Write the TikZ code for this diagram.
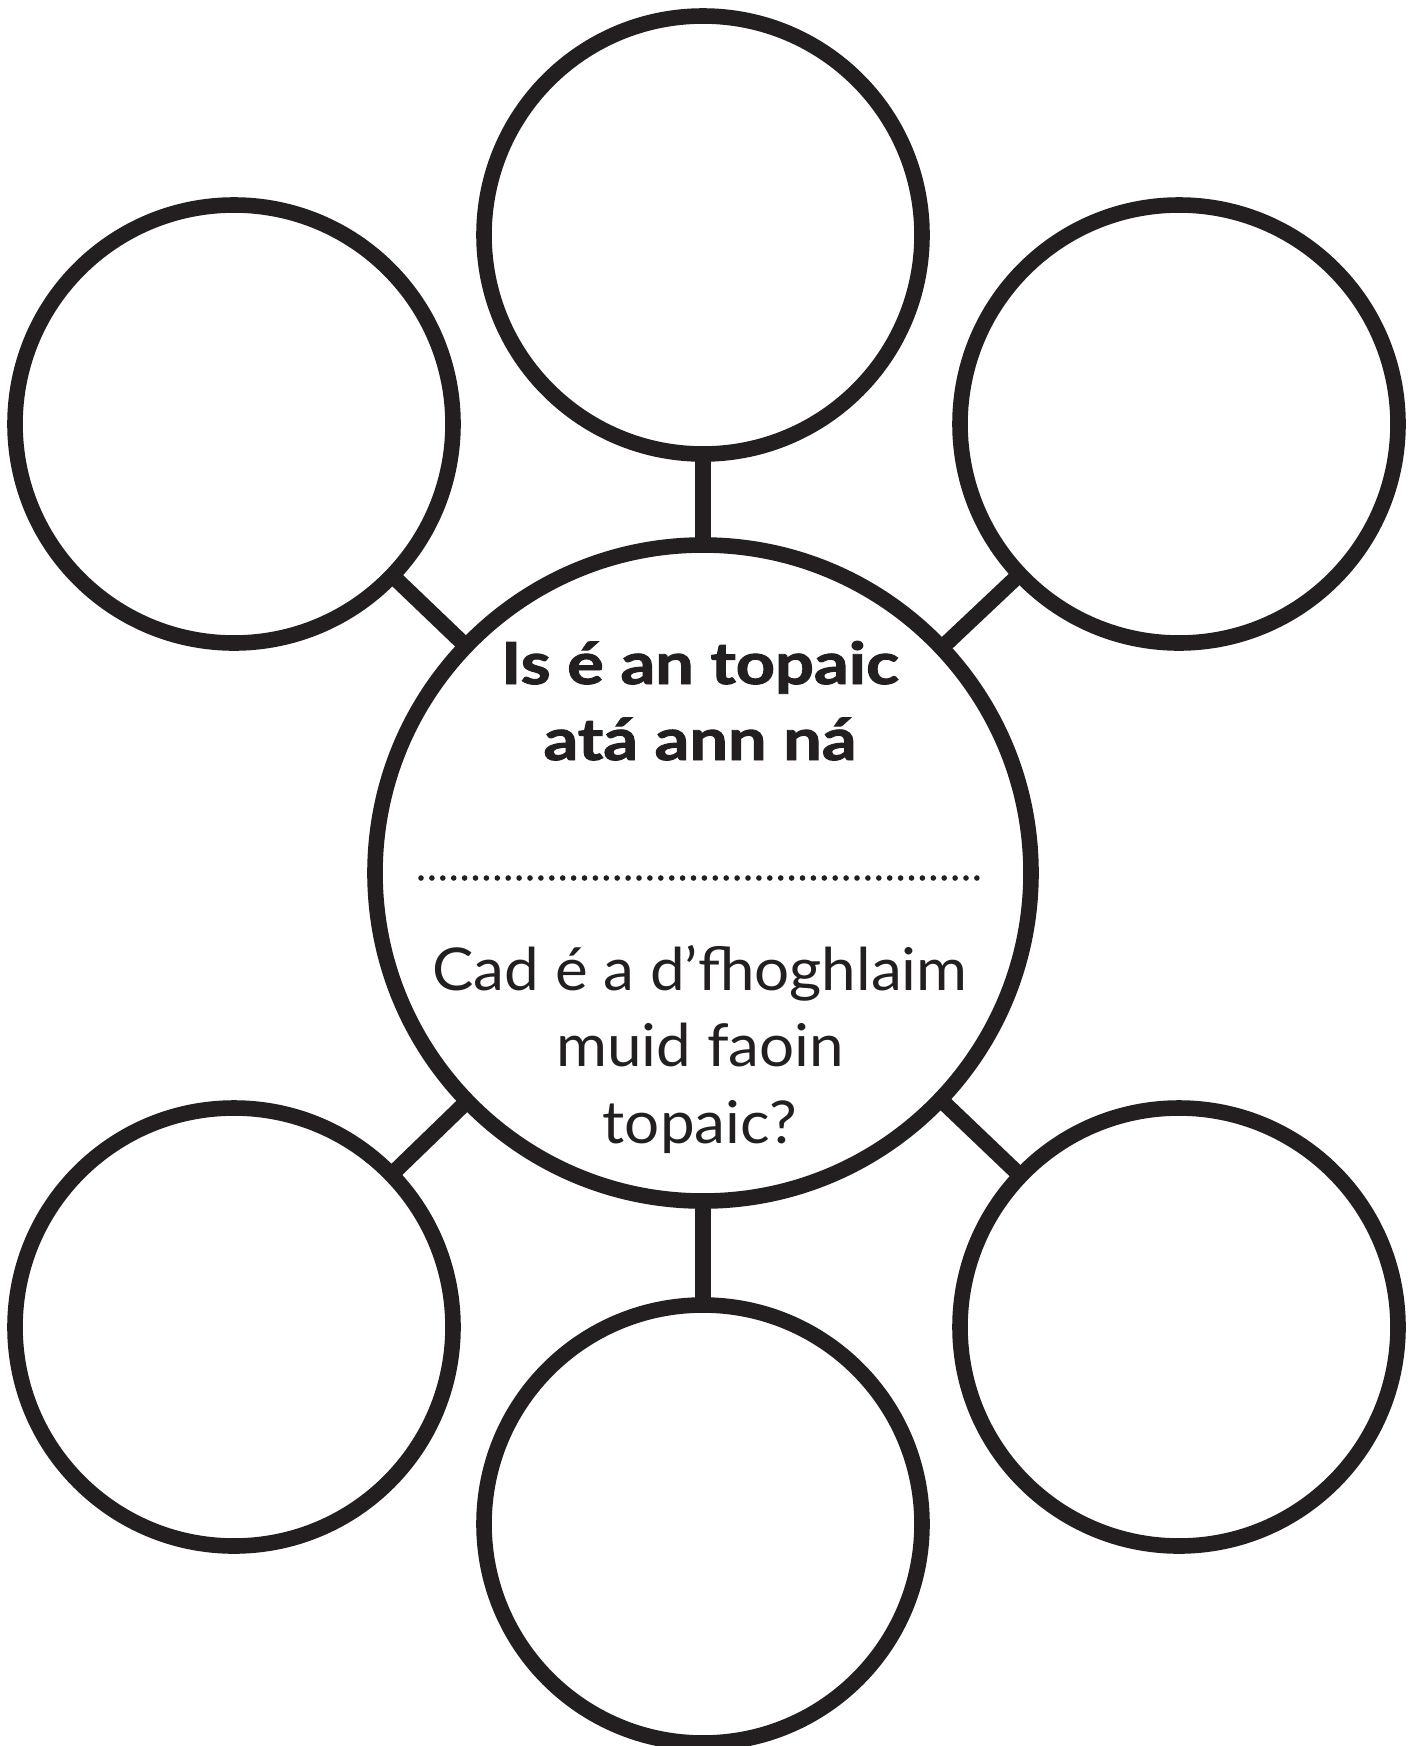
\documentclass[tikz,border=0pt]{standalone}
\usepackage{graphicx}
\usepackage{fontspec}
\setmainfont{Lato}
\newfontfamily\headfont{Lato}[UprightFont=* Bold,FakeBold=1.6]
\definecolor{ink}{HTML}{231F20}
\begin{document}
\begin{tikzpicture}[x=0.5pt,y=-0.5pt,
  ring/.style={circle,draw=ink,line width=7.8pt,minimum size=219pt,inner sep=0pt,outer sep=0pt},
  hub/.style={circle,draw=ink,line width=7.8pt,minimum size=328pt,inner sep=0pt,outer sep=0pt},
  link/.style={draw=ink,line width=7.8pt},
  fillline/.style={draw=ink,line width=2.8pt,line cap=round,dash pattern=on 0pt off 5.45pt},
  headtxt/.style={anchor=base,text=ink,inner sep=0pt,font=\fontsize{29}{29}\headfont},
  bodytxt/.style={anchor=base,text=ink,inner sep=0pt,font=\fontsize{29.5}{29.5}\selectfont}]
\useasboundingbox (0,0) rectangle (1419,1746);
\fill[white] (0,0) rectangle (1419,1746);
\node[hub] (hub) at (703,873) {};
\node[ring] (top) at (703,235) {};
\node[ring] (tl) at (234,424) {};
\node[ring] (tr) at (1179,424) {};
\node[ring] (bl) at (234,1327) {};
\node[ring] (br) at (1179,1327) {};
\node[ring] (bot) at (703,1524) {};
\foreach \n in {top,tl,tr,bl,br,bot}{\draw[link] (\n) -- (hub);}
\node[headtxt] (t1) at (700,684) {\scalebox{1.18}[1]{Is é an topaic}};
\node[headtxt] (t2) at (700,760) {\scalebox{1.18}[1]{atá ann ná}};
\coordinate (d1) at (421,878);
\coordinate (d2) at (978,878);
\draw[fillline] (d1) -- (d2);
\node[bodytxt] (t3) at (700,990) {\scalebox{1.05}[1]{Cad é a d’fhoghlaim}};
\node[bodytxt] (t4) at (700,1066) {\scalebox{1.05}[1]{muid faoin}};
\node[bodytxt] (t5) at (700,1143) {\scalebox{1.05}[1]{topaic?}};
\end{tikzpicture}
\end{document}
